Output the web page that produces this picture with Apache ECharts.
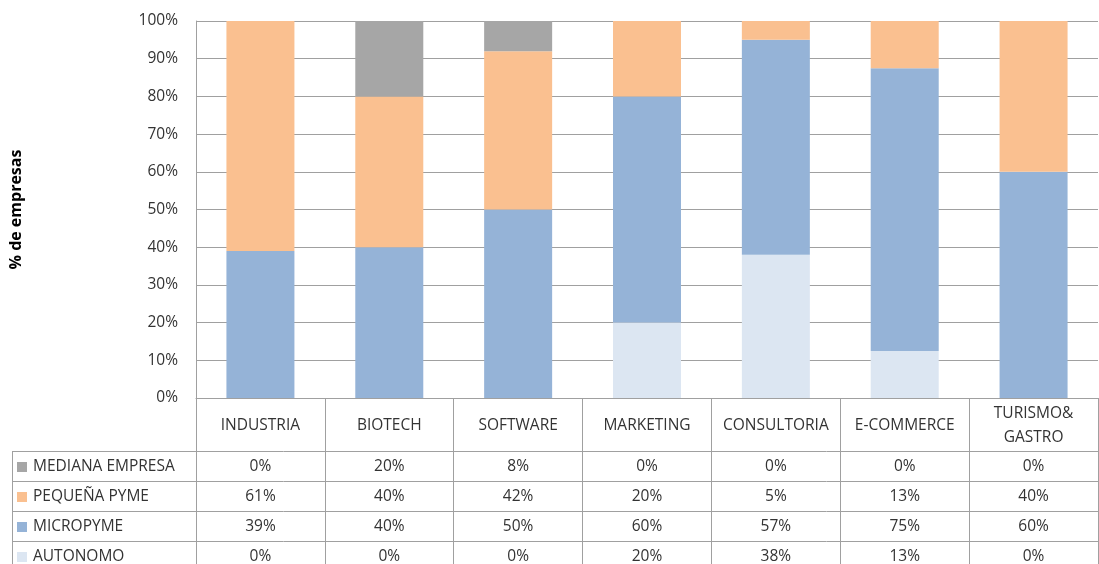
<!DOCTYPE html>
<html>
<head>
<meta charset="utf-8">
<script src="https://cdn.jsdelivr.net/npm/echarts@6/dist/echarts.min.js"></script>
<style>
html,body{margin:0;padding:0;background:#fff;}
#c{width:1099px;height:564px;}
</style>
</head>
<body>
<div id="c"></div>
<script>
var categories = ['INDUSTRIA','BIOTECH','SOFTWARE','MARKETING','CONSULTORIA','E-COMMERCE','TURISMO&\nGASTRO'];
var seriesNames = ['AUTONOMO','MICROPYME','PEQUEÑA PYME','MEDIANA EMPRESA'];
var autonomo = [0, 0, 0, 20, 38, 12.5, 0];
var micropyme = [39, 40, 50, 60, 57, 75, 60];
var pequenaPyme = [61, 40, 42, 20, 5, 12.5, 40];
var medianaEmpresa = [0, 20, 8, 0, 0, 0, 0];
var yTicks = [0,10,20,30,40,50,60,70,80,90,100];

var colors = {
  'AUTONOMO':'#dce6f2',
  'MICROPYME':'#95b3d7',
  'PEQUEÑA PYME':'#fac090',
  'MEDIANA EMPRESA':'#a6a6a6'
};
var values = {
  'AUTONOMO':autonomo,
  'MICROPYME':micropyme,
  'PEQUEÑA PYME':pequenaPyme,
  'MEDIANA EMPRESA':medianaEmpresa
};
// table rows, top to bottom
var tableRows = ['MEDIANA EMPRESA','PEQUEÑA PYME','MICROPYME','AUTONOMO'];

var FONT = '"Open Sans", Lato, sans-serif';
var TXT = '#333333';
var LINE = '#a0a0a0';
var FS = 15.5;
var plotBottom = 398, rowH = 30, firstRowTop = 451;

var xAxes = [{
  type:'category', data:categories, position:'bottom',
  axisLine:{show:true, lineStyle:{color:LINE, width:1}},
  axisTick:{show:true, length:166, alignWithLabel:false, lineStyle:{color:LINE, width:1}},
  axisLabel:{color:TXT, fontFamily:FONT, fontSize:FS, margin:28, lineHeight:24, verticalAlign:'middle', interval:0}
}];
tableRows.forEach(function(name, r){
  var center = firstRowTop + r*rowH + rowH/2 + 1;
  xAxes.push({
    type:'category', data:categories, position:'bottom', offset:center-plotBottom,
    axisLine:{show:false}, axisTick:{show:false},
    axisLabel:{color:TXT, fontFamily:FONT, fontSize:FS, margin:0, verticalAlign:'middle', interval:0,
      formatter:function(v, i){ return Math.round(values[name][i]) + '%'; }}
  });
});

var series = seriesNames.map(function(name){
  return {
    name:name, type:'bar', stack:'total', barWidth:68, xAxisIndex:0,
    itemStyle:{color:colors[name]},
    data:values[name]
  };
});

var legends = tableRows.map(function(name, r){
  return {
    data:[name], orient:'horizontal', left:17, top:firstRowTop + r*rowH + 8,
    icon:'rect', itemWidth:10, itemHeight:10, itemGap:0, selectedMode:false,
    textStyle:{color:TXT, fontFamily:FONT, fontSize:FS, padding:[0,0,0,1]},
    padding:0
  };
});

var graphics = [];
for (var r = 0; r <= 4; r++) {
  var y = firstRowTop + r*rowH + 0.5;
  graphics.push({type:'line', shape:{x1:12, y1:y, x2:1098, y2:y}, style:{stroke:LINE, lineWidth:1}, silent:true});
}
graphics.push({type:'line', shape:{x1:12.5, y1:firstRowTop, x2:12.5, y2:564}, style:{stroke:LINE, lineWidth:1}, silent:true});

var chart = echarts.init(document.getElementById('c'), null, {renderer:'canvas'});
chart.setOption({
  animation:false,
  backgroundColor:'#ffffff',
  grid:{left:196, right:1, top:21, bottom:166, containLabel:false, outerBoundsMode:'none'},
  legend:legends,
  xAxis:xAxes,
  yAxis:{
    type:'value', min:0, max:100, interval:10,
    name:'% de empresas', nameLocation:'middle', nameGap:172, nameRotate:90,
    nameTextStyle:{color:'#000', fontFamily:FONT, fontSize:16, fontWeight:'bold'},
    axisLine:{show:true, lineStyle:{color:LINE, width:1}},
    axisTick:{show:false},
    splitLine:{show:true, lineStyle:{color:LINE, width:1}},
    axisLabel:{color:TXT, fontFamily:FONT, fontSize:FS, margin:18,
      formatter:function(v){ return yTicks.indexOf(v) >= 0 ? v + '%' : ''; }}
  },
  series:series,
  graphic:graphics
});
</script>
</body>
</html>
